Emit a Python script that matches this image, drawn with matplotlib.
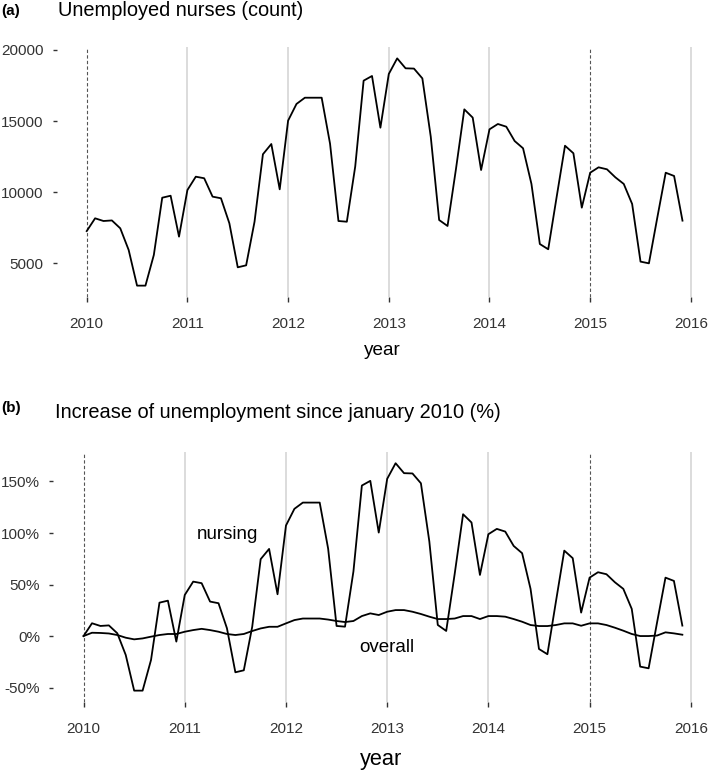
import numpy as np
import matplotlib
matplotlib.use("Agg")
import matplotlib.pyplot as plt
from matplotlib.ticker import FuncFormatter

plt.rcParams['font.family'] = ['Liberation Sans', 'DejaVu Sans']

# ---- data (monthly, Jan 2010 .. Dec 2015) ----
years = [2010, 2011, 2012, 2013, 2014, 2015]
nurses_count = [
    # 2010
    7250, 8150, 7960, 8000, 7445, 5920, 3410, 3410, 5570, 9600, 9740, 6860,
    # 2011
    10140, 11080, 10970, 9675, 9560, 7800, 4700, 4840, 7910, 12660, 13380, 10190,
    # 2012
    15025, 16200, 16640, 16640, 16640, 13400, 7960, 7910, 11800, 17840, 18170, 14530,
    # 2013
    18310, 19410, 18710, 18690, 18000, 13900, 8030, 7610, 11600, 15820, 15240, 11550,
    # 2014
    14415, 14790, 14600, 13590, 13080, 10570, 6340, 5970, 9640, 13260, 12730, 8900,
    # 2015
    11360, 11740, 11600, 11035, 10570, 9160, 5100, 4980, 8200, 11360, 11130, 7985,
]
overall_pct = [
    0, 3.2, 3.0, 2.5, 1.0, -1.6, -3.2, -2.3, -0.6, 1.0, 2.0, 2.0,
    4.2, 5.8, 7.0, 5.8, 4.2, 2.0, 1.0, 2.0, 4.9, 7.4, 9.0, 9.0,
    12.3, 15.5, 17.0, 17.0, 17.0, 16.0, 14.6, 13.6, 14.6, 19.4, 22.0, 20.4,
    23.6, 25.2, 25.2, 23.6, 21.4, 18.8, 16.5, 16.5, 17.0, 19.4, 19.4, 16.5,
    19.4, 19.4, 18.8, 16.5, 13.9, 10.7, 9.7, 9.7, 10.7, 12.3, 12.3, 10.0,
    12.3, 12.3, 10.7, 8.1, 5.2, 2.0, 0.0, 0.0, 0.5, 3.6, 2.6, 1.3,
]
year_ticks = [2010, 2011, 2012, 2013, 2014, 2015, 2016]
count_ticks = [5000, 10000, 15000, 20000]
pct_ticks = [-50, 0, 50, 100, 150]

# time axis: decimal years for each month
t = np.array([y + m / 12 for y in years for m in range(12)])
count = np.array(nurses_count, dtype=float)
nursing_pct = (count / count[0] - 1) * 100  # increase since January 2010

W, H = 709, 774
fig = plt.figure(figsize=(W / 100, H / 100), dpi=100)

def px_axes(left, top, right, bottom):
    return fig.add_axes([left / W, 1 - bottom / H, (right - left) / W, (bottom - top) / H])

tick_col = '#333333'
grid_col = '#d9d9d9'

def style(ax):
    for s in ax.spines.values():
        s.set_visible(False)
    ax.set_xlim(2009.7, 2016.18)
    ax.set_xticks(year_ticks)
    ax.tick_params(axis='x', length=3.5, width=1.0, color=tick_col, pad=11,
                   labelsize=11, labelcolor=tick_col)
    ax.tick_params(axis='y', length=3.0, width=1.0, color=tick_col, pad=6.5,
                   labelsize=11, labelcolor=tick_col)
    for yr in year_ticks:
        if yr in (2010, 2015):
            ax.axvline(yr, color='#555555', lw=0.8, ls=(0, (3, 2)), zorder=1)
        else:
            ax.axvline(yr, color=grid_col, lw=1.3, zorder=1)

# ---- panel (a) ----
axa = px_axes(56.5, 47, 709, 297)
style(axa)
axa.plot(t, count, color='black', lw=1.3, zorder=3)
axa.set_ylim(2610, 20210)
axa.set_yticks(count_ticks)
axa.set_xlabel('year', fontsize=13.6, labelpad=8)
fig.text(1 / W, 1 - 11 / H, '(a)', fontsize=11, fontweight='bold', va='center', ha='left')
fig.text(58 / W, 1 - 11 / H, 'Unemployed nurses (count)', fontsize=14.4, va='center', ha='left')

# ---- panel (b) ----
axb = px_axes(53.2, 451.6, 709, 702)
style(axb)
axb.plot(t, nursing_pct, color='black', lw=1.3, zorder=3)
axb.plot(t, overall_pct, color='black', lw=1.3, zorder=3)
axb.set_ylim(-64, 179)
axb.set_yticks(pct_ticks)
axb.yaxis.set_major_formatter(FuncFormatter(lambda v, p: f'{int(v)}%'))
axb.set_xlabel('year', fontsize=15.7, labelpad=9)
axb.text(2011.42, 99, 'nursing', fontsize=13.5, ha='center', va='center')
axb.text(2013.0, -10.7, 'overall', fontsize=13.5, ha='center', va='center')
fig.text(1 / W, 1 - 408 / H, '(b)', fontsize=11, fontweight='bold', va='center', ha='left')
fig.text(55 / W, 1 - 413 / H, 'Increase of unemployment since january 2010 (%)',
         fontsize=14.4, va='center', ha='left')

fig.savefig('out.png', dpi=100)
